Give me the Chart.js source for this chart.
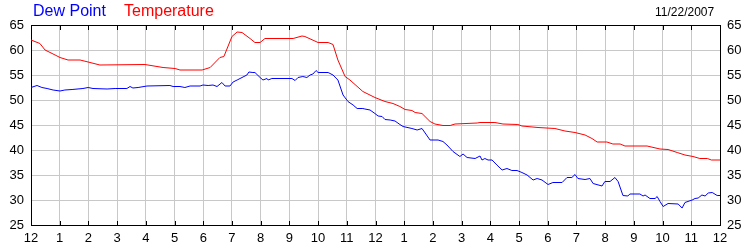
<!DOCTYPE html>
<html>
<head>
<meta charset="utf-8">
<script src="https://cdn.jsdelivr.net/npm/chart.js@4.4.1/dist/chart.umd.min.js"></script>
<style>
    body { margin: 0; background: #fff; }
    #wrap { position: relative; width: 750px; height: 250px; }
    .lbl { position: absolute; font-family: "Liberation Sans", Arial, sans-serif; white-space: nowrap; }
    #dew { left: 33px; top: 2px; font-size: 16px; color: #0000ff; }
    #temp { left: 124px; top: 2px; font-size: 16px; color: #ff0000; }
    #date { left: 655px; top: 5px; font-size: 12px; color: #000; }
</style>
</head>
<body>
<div id="wrap">
    <canvas id="weatherChart" width="750" height="250"></canvas>
    <span class="lbl" id="dew">Dew Point</span>
    <span class="lbl" id="temp">Temperature</span>
    <span class="lbl" id="date">11/22/2007</span>
</div>
<script>
// hour labels along the bottom, midnight to midnight
const hourLabels = ["12", "1", "2", "3", "4", "5", "6", "7", "8", "9", "10", "11",
    "12", "1", "2", "3", "4", "5", "6", "7", "8", "9", "10", "11", "12"];

// temperature readings (hours since midnight, degrees F)
const tempHours = [0, 0.31, 0.49, 0.84, 1.01, 1.29, 1.71, 1.99, 2.40, 3.97, 4.60, 5.02, 5.19, 5.96,
    6.24, 6.58, 6.72, 7.00, 7.18, 7.35, 7.63, 7.80, 7.98, 8.15, 9.13, 9.44, 9.54, 10.00, 10.35,
    10.52, 10.69, 10.94, 11.11, 11.56, 11.98, 12.33, 12.61, 12.85, 13.03, 13.27, 13.38, 13.62,
    13.90, 14.07, 14.35, 14.60, 14.77, 15.54, 15.64, 16.16, 16.44, 16.96, 17.10, 17.66, 18.25,
    18.60, 18.95, 19.30, 19.54, 19.72, 20.06, 20.27, 20.52, 20.69, 21.46, 21.91, 22.19, 22.51,
    22.78, 23.06, 23.30, 23.56, 23.70, 24.00];
const tempValues = [62.0, 61.3, 60.0, 59.0, 58.5, 58.0, 58.0, 57.6, 57.0, 57.1, 56.5, 56.3, 56.0, 56.0,
    56.5, 58.5, 58.7, 62.7, 63.6, 63.5, 62.3, 61.5, 61.5, 62.3, 62.3, 62.8, 62.7, 61.5, 61.5,
    61.1, 58.0, 54.7, 54.0, 51.7, 50.5, 49.7, 49.3, 48.7, 48.1, 47.9, 47.5, 47.3,
    45.7, 45.2, 44.9, 44.9, 45.2, 45.4, 45.5, 45.5, 45.2, 45.1, 44.8, 44.5, 44.3,
    43.8, 43.5, 43.0, 42.3, 41.6, 41.6, 41.2, 41.2, 40.8, 40.8, 40.2, 40.1, 39.5,
    39.0, 38.7, 38.3, 38.3, 38.0, 38.0];

// dew point readings
const dewHours = [0, 0.21, 0.38, 0.56, 0.77, 1.01, 1.18, 1.43, 1.81, 1.99, 2.16, 2.65, 2.93, 3.34,
    3.45, 3.55, 3.73, 4.04, 4.84, 4.95, 5.19, 5.36, 5.54, 5.89, 5.99, 6.17, 6.34, 6.48, 6.65,
    6.76, 6.93, 7.04, 7.18, 7.35, 7.52, 7.59, 7.73, 7.80, 7.98, 8.08, 8.22, 8.26, 8.39, 9.09,
    9.20, 9.30, 9.47, 9.61, 9.72, 9.82, 9.93, 10.00, 10.35, 10.52, 10.69, 10.87, 11.04, 11.22,
    11.36, 11.56, 11.63, 11.81, 11.98, 12.09, 12.23, 12.33, 12.51, 12.68, 12.85, 12.96, 13.27,
    13.45, 13.62, 13.90, 14.18, 14.35, 14.49, 14.70, 14.94, 15.05, 15.19, 15.47, 15.64, 15.71,
    15.81, 15.92, 16.06, 16.23, 16.41, 16.58, 16.75, 16.93, 17.10, 17.28, 17.49, 17.63, 17.80,
    18.01, 18.18, 18.50, 18.67, 18.84, 18.95, 19.05, 19.30, 19.47, 19.58, 19.89, 19.99, 20.17,
    20.34, 20.45, 20.62, 20.79, 20.86, 21.21, 21.32, 21.39, 21.56, 21.74, 21.81, 21.91, 22.02,
    22.19, 22.54, 22.68, 22.78, 23.03, 23.13, 23.24, 23.37, 23.48, 23.59, 23.73, 23.90, 24.00];
const dewValues = [52.5, 52.9, 52.5, 52.3, 52.0, 51.8, 52.0, 52.1, 52.3, 52.5, 52.3, 52.2, 52.3, 52.3,
    52.7, 52.4, 52.5, 52.8, 52.9, 52.7, 52.7, 52.5, 52.8, 52.8, 53.0, 52.9, 53.0, 52.7, 53.5,
    52.8, 52.8, 53.6, 54.0, 54.5, 55.0, 55.6, 55.5, 55.5, 54.5, 54.0, 54.3, 54.0, 54.3, 54.3,
    53.9, 54.5, 54.7, 54.5, 55.0, 55.2, 55.9, 55.5, 55.5, 55.0, 54.0, 51.0, 49.7, 49.0,
    48.3, 48.3, 48.2, 48.0, 47.3, 46.8, 46.7, 46.1, 46.0, 45.8, 45.1, 44.7, 44.3,
    44.0, 44.3, 42.0, 42.0, 41.7, 41.0, 39.7, 38.7, 39.2, 38.5, 38.3, 38.8, 38.0,
    38.3, 38.0, 38.0, 37.0, 36.0, 36.3, 35.9, 35.9, 35.5, 35.0, 34.0, 34.3, 34.0,
    33.1, 33.5, 33.5, 34.5, 34.5, 35.1, 34.3, 34.1, 34.3, 33.3, 32.8, 33.7, 33.7,
    34.5, 33.7, 30.9, 30.8, 31.2, 31.2, 30.8, 31.0, 30.3, 30.3, 30.7, 29.7, 28.7,
    29.3, 29.2, 28.4, 29.5, 30.0, 30.3, 30.4, 31.0, 30.8, 31.4, 31.5, 30.9, 30.9];

const yMin = 25, yMax = 65;

function toPoints(hours, values) {
    return hours.map((h, i) => ({ x: h, y: values[i] }));
}

// top border plus the small inward tick marks on top and bottom
const frameTicks = {
    id: "frameTicks",
    afterDraw(chart) {
        const { ctx, chartArea, scales } = chart;
        ctx.save();
        ctx.strokeStyle = "#000";
        ctx.lineWidth = 1;
        ctx.beginPath();
        const top = Math.round(chartArea.top) + 0.5;
        ctx.moveTo(chartArea.left, top);
        ctx.lineTo(chartArea.right, top);
        scales.x.ticks.forEach(t => {
            const px = Math.round(scales.x.getPixelForValue(t.value)) + 0.5;
            ctx.moveTo(px, chartArea.top);
            ctx.lineTo(px, chartArea.top + 5);
            ctx.moveTo(px, chartArea.bottom);
            ctx.lineTo(px, chartArea.bottom - 4);
        });
        ctx.stroke();
        ctx.restore();
    }
};

const tickFont = { family: "'Liberation Sans', Arial, sans-serif", size: 13 };

new Chart(document.getElementById("weatherChart"), {
    type: "line",
    data: {
        datasets: [
            {
                label: "Dew Point",
                data: toPoints(dewHours, dewValues),
                borderColor: "#0000ff",
                borderWidth: 1,
                pointRadius: 0,
                tension: 0
            },
            {
                label: "Temperature",
                data: toPoints(tempHours, tempValues),
                borderColor: "#ff0000",
                borderWidth: 1,
                pointRadius: 0,
                tension: 0
            }
        ]
    },
    options: {
        responsive: false,
        animation: false,
        layout: { padding: { top: 25, left: 0, right: 0, bottom: 0 } },
        plugins: { legend: { display: false }, tooltip: { enabled: false } },
        scales: {
            x: {
                type: "linear",
                min: 0,
                max: 24,
                afterFit: s => { s.height = 25; },
                ticks: {
                    stepSize: 1,
                    autoSkip: false,
                    maxRotation: 0,
                    padding: 6,
                    color: "#000",
                    font: tickFont,
                    callback: v => hourLabels[v]
                },
                grid: { color: "#c8c8c8", drawTicks: false },
                border: { display: true, color: "#000", width: 1 }
            },
            y: {
                position: "left",
                min: yMin,
                max: yMax,
                afterFit: s => { s.width = 31; },
                ticks: { stepSize: 5, padding: 7, color: "#000", font: tickFont },
                grid: { color: "#c8c8c8", drawTicks: false },
                border: { display: true, color: "#000", width: 1 }
            },
            y2: {
                position: "right",
                min: yMin,
                max: yMax,
                afterFit: s => { s.width = 30; },
                ticks: { stepSize: 5, padding: 7, color: "#000", font: tickFont },
                grid: { display: false, drawTicks: false },
                border: { display: true, color: "#000", width: 1 }
            }
        }
    },
    plugins: [frameTicks]
});
</script>
</body>
</html>
